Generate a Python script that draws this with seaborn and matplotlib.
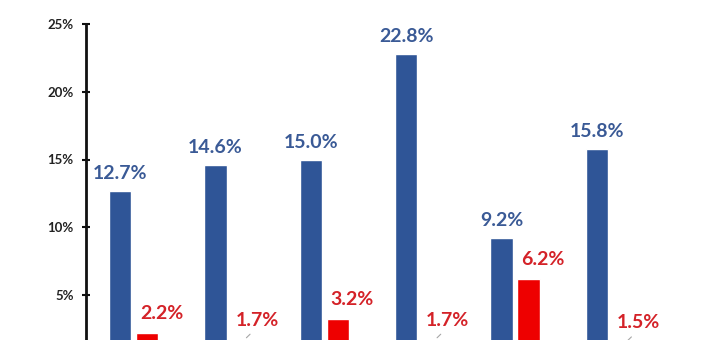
import matplotlib
matplotlib.use("Agg")
import matplotlib.pyplot as plt
import seaborn as sns
import pandas as pd

categories = ["A", "B", "C", "D", "E", "F"]
series_names = ["Series 1", "Series 2"]
blue_values = [12.7, 14.6, 15.0, 22.8, 9.2, 15.8]
red_values = [2.2, 1.7, 3.2, 1.7, 6.2, 1.5]
y_ticks = [5, 10, 15, 20, 25]
y_tick_labels = ["5%", "10%", "15%", "20%", "25%"]

df = pd.DataFrame({
    "category": categories * 2,
    "series": [series_names[0]] * len(categories) + [series_names[1]] * len(categories),
    "value": blue_values + red_values,
})

sns.set_theme(style="white")
plt.rcParams["font.family"] = ["Lato", "DejaVu Sans"]

BLUE = "#2F5597"
RED = "#EE0000"
BLUE_TXT = "#3A5A96"
RED_TXT = "#D42228"

fig = plt.figure(figsize=(7.2, 3.4), dpi=100)
ax = fig.add_axes([86 / 720, (340 - 362.75) / 340, 572 / 720, (362.75 - 24) / 340])

sns.barplot(data=df, x="category", y="value", hue="series",
            palette=[BLUE, RED], width=0.567, gap=0.185,
            saturation=1, legend=False, ax=ax, errorbar=None)

ax.set_ylim(0, 25)
ax.set_xlim(-0.5, 5.5)
ax.set_yticks(y_ticks)
ax.set_yticklabels(y_tick_labels, fontsize=9.5, fontweight="bold", color="#222222")
ax.tick_params(axis="y", direction="inout", length=6, width=1.5, color="#111111", pad=6, left=True)
ax.set_xticks([])
ax.set_xlabel("")
ax.set_ylabel("")
for s in ["top", "right", "bottom"]:
    ax.spines[s].set_visible(False)
ax.spines["left"].set_color("#111111")
ax.spines["left"].set_linewidth(2)

blue_bars = ax.containers[0]
red_bars = ax.containers[1]

for bar, v in zip(blue_bars, blue_values):
    x = bar.get_x() + bar.get_width() / 2
    ax.annotate(f"{v:.1f}%", (x, v), xytext=(0, 12.5), textcoords="offset points",
                ha="center", va="center", fontsize=14, fontweight="bold", color=BLUE_TXT,
                annotation_clip=False)

for bar, v in zip(red_bars, red_values):
    x = bar.get_x() + bar.get_width() / 2
    leader = v < 2.0
    ax.annotate(f"{v:.1f}%", (x + 0.02, v), xytext=(9, 14), textcoords="offset points",
                ha="center", va="center", fontsize=14, fontweight="bold", color=RED_TXT,
                annotation_clip=False)
    if leader:
        ax.annotate("", (x + 0.02, v), xytext=(x + 0.1, v + 0.55),
                    arrowprops=dict(arrowstyle="-", color="#A6A6A6", lw=0.8),
                    annotation_clip=False)

fig.savefig("out.png", dpi=100)
